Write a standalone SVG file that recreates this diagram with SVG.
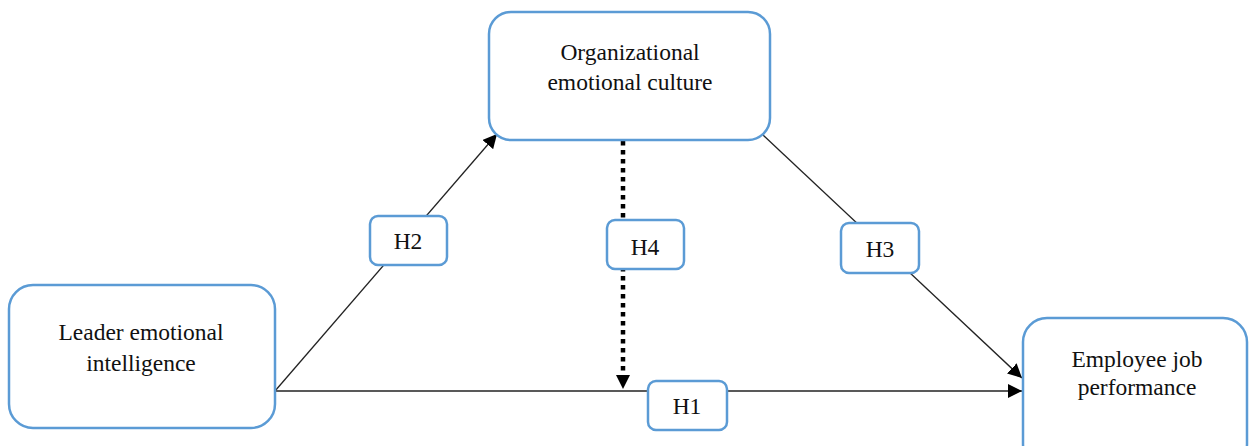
<svg xmlns="http://www.w3.org/2000/svg" width="1249" height="446" viewBox="0 0 1249 446">
<style>
.box{fill:#fff;stroke:#5b9bd5;stroke-width:2.5}
.t{font-family:"Liberation Serif","Times New Roman",serif;font-size:23.5px;fill:#111;text-anchor:middle}
.ln{stroke:#222;stroke-width:1.3;fill:none}
.dot{stroke:#000;stroke-width:4.5;stroke-dasharray:4.5 4.5;fill:none}
</style>
<defs>
<marker id="ah2" viewBox="0 0 10 10" refX="10" refY="5" markerWidth="14" markerHeight="14" markerUnits="userSpaceOnUse" orient="auto"><path d="M0,0L10,5L0,10z" fill="#000"/></marker>
</defs>
<g id="connectors">
<line class="ln" x1="275" y1="391" x2="1022" y2="391" marker-end="url(#ah2)"/>
<line class="ln" x1="275" y1="391" x2="497" y2="134" marker-end="url(#ah2)"/>
<line class="ln" x1="763" y1="135" x2="1022" y2="378" marker-end="url(#ah2)"/>
<line class="dot" x1="623" y1="141" x2="623" y2="376"/>
<path d="M616,375L630,375L623,389z" fill="#000"/>
</g>
<g id="org"><rect class="box" x="489" y="12" width="281" height="128" rx="22"/><text class="t" x="630" y="60">Organizational</text><text class="t" x="630" y="90">emotional culture</text></g>
<g id="leader"><rect class="box" x="9" y="285" width="266" height="143" rx="24"/><text class="t" x="141" y="340">Leader emotional</text><text class="t" x="141" y="371">intelligence</text></g>
<g id="employee"><rect class="box" x="1023" y="318" width="224" height="150" rx="24"/><text class="t" x="1137" y="367">Employee job</text><text class="t" x="1137" y="395">performance</text></g>
<g id="h1"><rect class="box" x="648" y="381" width="79" height="49" rx="8"/><text class="t" x="687" y="414">H1</text></g>
<g id="h2"><rect class="box" x="370" y="216" width="77" height="49" rx="8"/><text class="t" x="408" y="249">H2</text></g>
<g id="h3"><rect class="box" x="841" y="223" width="78" height="50" rx="8"/><text class="t" x="880" y="257">H3</text></g>
<g id="h4"><rect class="box" x="607" y="220" width="77" height="49" rx="8"/><text class="t" x="645" y="255">H4</text></g>
</svg>
